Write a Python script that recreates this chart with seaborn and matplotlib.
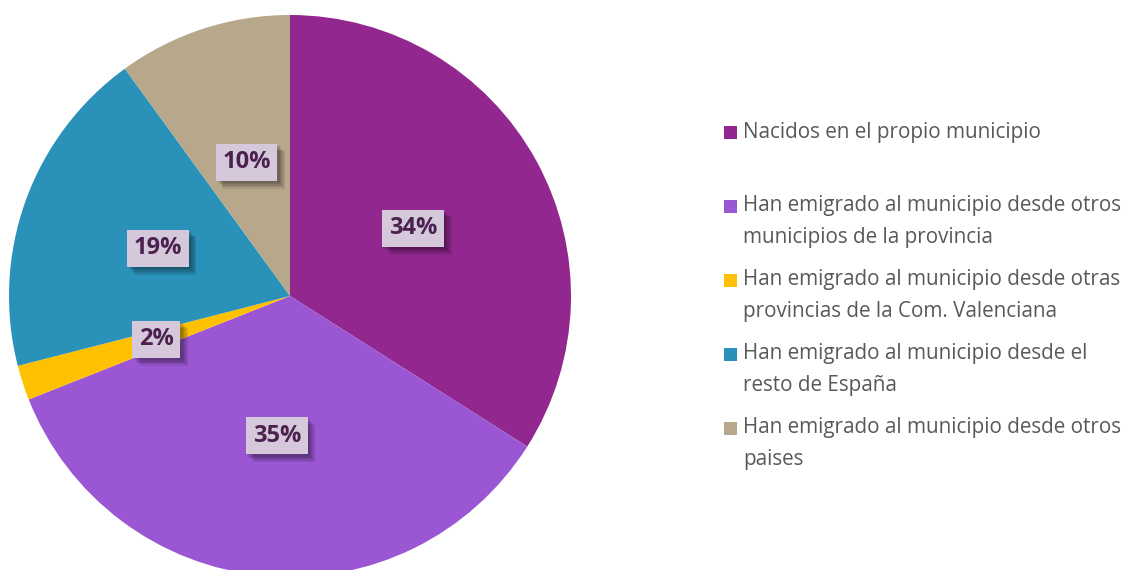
import matplotlib
matplotlib.use("Agg")
import matplotlib.pyplot as plt
import matplotlib.patheffects as pe
from matplotlib.patches import Rectangle
import seaborn as sns

categories = [
    "Nacidos en el propio municipio",
    "Han emigrado al municipio desde otros\nmunicipios de la provincia",
    "Han emigrado al municipio desde otras\nprovincias de la Com. Valenciana",
    "Han emigrado al municipio desde el\nresto de España",
    "Han emigrado al municipio desde otros\npaises",
]
shares = [34, 35, 2, 19, 10]
colors = ["#92278F", "#9B57D3", "#FFC000", "#2A91B8", "#B7A78B"]

sns.set_style("white")
plt.rcParams["font.family"] = ["Open Sans", "DejaVu Sans"]
palette = sns.color_palette(colors)

W, H = 1129, 570
fig = plt.figure(figsize=(W / 100, H / 100), dpi=100)
fig.patch.set_facecolor("white")

# pie axes: centre (290, 296) px, radius 281 px
cx, cy, r = 290, 296, 281
ax = fig.add_axes([(cx - r) / W, (H - cy - r) / H, 2 * r / W, 2 * r / H])

wedges, texts, autotexts = ax.pie(
    shares,
    colors=palette,
    startangle=90,
    counterclock=False,
    radius=1,
    autopct=lambda p: f"{p:.0f}%",
    pctdistance=0.5,
    wedgeprops=dict(linewidth=0),
    textprops=dict(fontsize=17, fontweight="bold", color="#4B2150"),
)
ax.set_xlim(-1, 1)
ax.set_ylim(-1, 1)
ax.set_aspect("equal", adjustable="box")
ax.axis("off")

# soft drop shadow for the value boxes: stacked faint offsets
shadow = [pe.SimplePatchShadow(offset=(o, -o), shadow_rgbFace="black", alpha=0.09)
          for o in (5.5, 4.5, 3.5, 2.5, 1.5)]
for t in autotexts:
    t.set_bbox(dict(boxstyle="square,pad=0.28", facecolor="#D5C8DB", edgecolor="none"))
    t.get_bbox_patch().set_path_effects(shadow + [pe.Normal()])

# legend on the right, one slot of equal height per entry
lx, ly0, step = 724, 132, 74
for i, (label, col) in enumerate(zip(categories, palette)):
    y = ly0 + step * i
    fig.patches.append(
        Rectangle(((lx) / W, (H - y - 6.5) / H), 13 / W, 13 / H,
                  transform=fig.transFigure, facecolor=col, edgecolor="none")
    )
    lines = label.split("\n")
    for j, line in enumerate(lines):
        fig.text((lx + 19) / W, (H - y - 31 * j) / H, line,
                 fontsize=14.9, color="#595959", va="center", ha="left")

fig.savefig("out.png", dpi=100, facecolor="white")
